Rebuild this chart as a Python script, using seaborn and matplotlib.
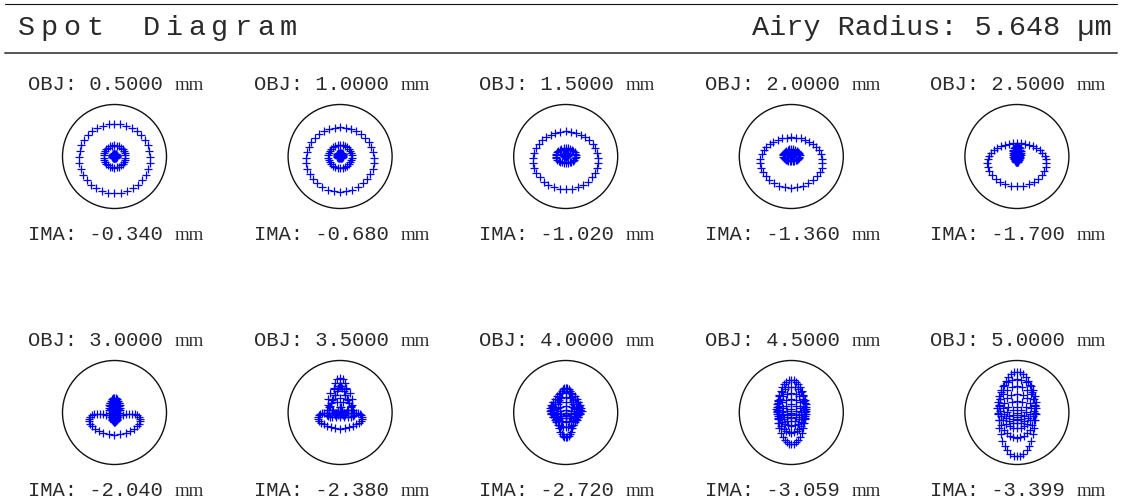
import numpy as np
import pandas as pd
import matplotlib
matplotlib.use("Agg")
import matplotlib.pyplot as plt
import seaborn as sns
from matplotlib.patches import Circle
from matplotlib.lines import Line2D

sns.set_style("white")
plt.rcParams["font.family"] = ["Liberation Mono", "DejaVu Sans Mono"]

W, H = 1121, 501

title = "Spot Diagram"
airy_radius = 5.648  # µm
obj_labels = ["0.5000", "1.0000", "1.5000", "2.0000", "2.5000",
              "3.0000", "3.5000", "4.0000", "4.5000", "5.0000"]
ima_labels = ["-0.340", "-0.680", "-1.020", "-1.360", "-1.700",
              "-2.040", "-2.380", "-2.720", "-3.059", "-3.399"]

# Transverse ray displacement (µm) of a pupil zone, per field:
# at zone radius 0.5, 5/6 and the rim (1.0). Signed: negative = inverted.
ex_half = [-0.05, -0.05, -0.05, 0.00, 0.05, 0.30, 1.00, 1.60, 1.40, 1.50]
ex_zone = [-1.20, -1.30, -1.09, -0.90, -0.40, -0.54, -1.30, 1.50, 1.60, 2.10]
ex_rim = [-3.87, -3.70, -3.53, -3.35, -3.15, -2.66, -2.30, 0.90, 1.50, 2.00]
ey_half = [-0.05, -0.05, -0.05, 0.00, 0.20, 0.60, 1.50, 0.90, 1.20, 1.60]
ey_zone = [-1.20, -1.25, -0.80, -0.65, -0.85, -1.30, 1.70, 1.90, 2.50, 3.20]
ey_rim = [-3.78, -3.50, -3.15, -2.75, -2.34, -1.04, -0.84, 2.70, 3.50, 4.60]
# Coma amplitude (µm) at zone 5/6 and at the rim
coma_zone = [0.00, 0.00, 0.03, 0.05, 0.08, 0.10, 0.40, 0.10, 0.10, 0.15]
coma_rim = [-0.07, -0.11, -0.14, -0.22, -0.30, -0.45, -0.30, 0.00, 0.02, -0.05]

N_RINGS = 6
ZONES = np.array([0.5, 5 / 6, 1.0])


def radial_coeffs(half, zone, rim):
    """Coefficients of a*r + b*r^3 + c*r^5 through the three zone values."""
    m = np.vstack([ZONES, ZONES ** 3, ZONES ** 5]).T
    return np.linalg.solve(m, [half, zone, rim])


def coma_coeffs(zone, rim):
    m = np.array([[ZONES[1] ** 2, ZONES[1] ** 4], [1.0, 1.0]])
    return np.linalg.solve(m, [zone, rim])


def spot(i):
    cx = radial_coeffs(ex_half[i], ex_zone[i], ex_rim[i])
    cy = radial_coeffs(ey_half[i], ey_zone[i], ey_rim[i])
    cc = coma_coeffs(coma_zone[i], coma_rim[i])
    rows = [(0.0, 0.0)]
    for k in range(1, N_RINGS + 1):
        r = k / N_RINGS
        n = 6 * k
        th = 2 * np.pi * np.arange(n) / n
        fx = cx[0] * r + cx[1] * r ** 3 + cx[2] * r ** 5
        fy = cy[0] * r + cy[1] * r ** 3 + cy[2] * r ** 5
        kc = cc[0] * r ** 2 + cc[1] * r ** 4
        x = fx * np.sin(th) + kc * np.sin(2 * th)
        y = fy * np.cos(th) + kc * (2 + np.cos(2 * th))
        rows.extend(zip(x, y))
    return pd.DataFrame(rows, columns=["x", "y"])


fig = plt.figure(figsize=(W / 100, H / 100), dpi=100)
fig.patch.set_facecolor("white")

px_per_um = 52.0 / airy_radius
half_box = 65.0
lim = half_box / px_per_um
ink = "#2a2a2a"

for i in range(10):
    col, row = i % 5, i // 5
    cxp = 114.5 + 225.6 * col
    cyp = 156.5 + 256.0 * row
    ax = fig.add_axes([(cxp - half_box) / W, (H - cyp - half_box) / H,
                       2 * half_box / W, 2 * half_box / H])
    df = spot(i)
    sns.scatterplot(data=df, x="x", y="y", ax=ax, marker="+", s=30,
                    color="#0000ff", linewidth=0.9, legend=False)
    ax.add_patch(Circle((0, 0), airy_radius, fill=False, lw=1.0,
                        ec="#111111"))
    ax.set_xlim(-lim, lim)
    ax.set_ylim(-lim, lim)
    ax.set_aspect("equal")
    ax.set_axis_off()

    for label, base in (("OBJ: " + obj_labels[i], cyp - 66.5),
                        ("IMA: " + ima_labels[i], cyp + 83.5)):
        fig.text((cxp - 86.5) / W, 1 - base / H, label, fontsize=14.8,
                 color=ink, ha="left", va="baseline")
        fig.text((cxp + 60.0) / W, 1 - base / H, "mm", fontsize=13.5,
                 family="Liberation Serif", color=ink,
                 ha="left", va="baseline")

# header
fig.add_artist(Line2D([5 / W, 1117 / W], [1 - 3.5 / H] * 2,
                      color="#111111", lw=0.8))
fig.add_artist(Line2D([5 / W, 1117 / W], [1 - 52.5 / H] * 2,
                      color="#555555", lw=1.4))
starts = {0: 18.0, 5: 143.0}
pos = 18.0
for j, ch in enumerate(title):
    if j in starts:
        pos = starts[j]
    if ch != " ":
        fig.text(pos / W, 1 - 35 / H, ch, fontsize=20.5, color=ink,
                 ha="left", va="baseline")
    pos += 22.8
fig.text(1112 / W, 1 - 35 / H, f"Airy Radius: {airy_radius:.3f} µm",
         fontsize=20.5, color=ink, ha="right", va="baseline")

fig.savefig("out.png", dpi=100, facecolor="white")
